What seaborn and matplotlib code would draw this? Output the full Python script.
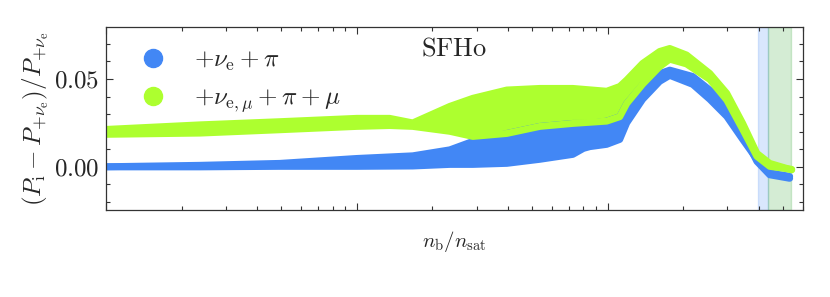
import numpy as np
import pandas as pd
import seaborn as sns
import matplotlib
matplotlib.use('Agg')
import matplotlib.pyplot as plt
from matplotlib.lines import Line2D
from matplotlib.ticker import MultipleLocator, FuncFormatter, NullFormatter, LogLocator

# envelope of the scattered points (x in n_b/n_sat)
x_blue = [0.01, 0.0237, 0.0493, 0.1, 0.167, 0.2347, 0.29, 0.396, 0.536, 0.7255, 0.8, 0.848,
          0.99, 1.116, 1.19, 1.377, 1.61, 1.766, 2.18, 2.55, 2.98, 3.45, 3.93, 4.42, 5.31]
blue_upper = [0.0001, 0.0009, 0.002, 0.0048, 0.0063, 0.0097, 0.0145, 0.019, 0.023, 0.0247, 0.0247, 0.0247,
              0.026, 0.0285, 0.036, 0.0466, 0.053, 0.055, 0.0514, 0.0437, 0.0344, 0.019, 0.0031, -0.0045, -0.0065]
blue_lower = [0.0, 0.0, 0.0003, 0.0003, 0.0005, 0.0014, 0.0014, 0.002, 0.0043, 0.0071, 0.0105, 0.0115,
              0.0128, 0.0156, 0.025, 0.0384, 0.0486, 0.052, 0.0469, 0.0384, 0.0287, 0.0156, 0.0043, -0.0034, -0.0054]

x_green = [0.01, 0.0237, 0.0493, 0.1, 0.135, 0.167, 0.2347, 0.29, 0.396, 0.536, 0.7255, 0.99,
           1.116, 1.19, 1.377, 1.61, 1.766, 2.06, 2.55, 2.98, 3.45, 3.93, 4.42, 5.41]
green_upper = [0.0213, 0.0239, 0.0257, 0.0276, 0.0276, 0.025, 0.0344, 0.039, 0.0437, 0.0446, 0.0446, 0.043,
               0.0457, 0.0494, 0.0588, 0.0656, 0.0673, 0.0636, 0.0531, 0.0418, 0.0247, 0.0077, 0.002, -0.0017]
green_lower = [0.0185, 0.0192, 0.0211, 0.023, 0.0235, 0.023, 0.0202, 0.0173, 0.019, 0.023, 0.0247, 0.026,
               0.0285, 0.036, 0.047, 0.057, 0.0612, 0.0585, 0.0497, 0.038, 0.0213, 0.006, 0.0003, -0.0014]

labels = [r'$+\nu_{\rm e}+\pi$', r'$+\nu_{{\rm e},\mu}+\pi+\mu$']
colors = ['#4287f5', '#adff2f']

# shaded density regions
blue_span = (3.96, 4.34)
green_span = (4.34, 5.36)

sns.set_theme(style="ticks")
plt.rcParams['font.family'] = ['DejaVu Serif']
plt.rcParams['mathtext.fontset'] = 'cm'

fig = plt.figure(figsize=(8.3, 2.97), dpi=100)
ax = fig.add_axes([106 / 830, 1 - 210 / 297, 697 / 830, 183 / 297])
ax.set_xscale('log')

ax.axvspan(*blue_span, facecolor='#4287f5', alpha=0.2, edgecolor='#4287f5', lw=1, zorder=0)
ax.axvspan(*green_span, facecolor='#2ca02c', alpha=0.2, edgecolor='#2ca02c', lw=1, zorder=0)

for xs, lo, up, c in [(x_blue, blue_lower, blue_upper, colors[0]),
                      (x_green, green_lower, green_upper, colors[1])]:
    df = pd.DataFrame({'x': xs, 'lo': lo, 'up': up})
    ax.fill_between(df['x'], df['lo'], df['up'], color=c, lw=0)
    sns.lineplot(data=df, x='x', y='lo', color=c, lw=5, sort=False, estimator=None, ax=ax,
                 solid_capstyle='round')
    sns.lineplot(data=df, x='x', y='up', color=c, lw=5, sort=False, estimator=None, ax=ax,
                 solid_capstyle='round')

ax.set_xlim(0.01, 6)
ax.set_ylim(-0.0245, 0.0795)

ax.yaxis.set_major_locator(MultipleLocator(0.05))
ax.yaxis.set_minor_locator(MultipleLocator(0.01))
ax.yaxis.set_major_formatter(FuncFormatter(lambda v, p: r'$%.2f$' % v))
ax.xaxis.set_major_locator(LogLocator(base=10))
ax.xaxis.set_minor_locator(LogLocator(base=10, subs=np.arange(2, 10)))
ax.xaxis.set_major_formatter(NullFormatter())
ax.xaxis.set_minor_formatter(NullFormatter())

ax.tick_params(which='both', direction='in', top=True, right=True, color='#333333', labelsize=18)
ax.tick_params(which='major', length=5, width=0.8, pad=5)
ax.tick_params(which='minor', length=3, width=0.8)
for s in ax.spines.values():
    s.set_color('#333333')
    s.set_linewidth(0.9)

ax.set_xlabel(r'$n_{\rm b}/n_{\rm sat}$', fontsize=15, labelpad=9)
ax.set_ylabel(r'$(P_{\rm i}-P_{+\nu_{\rm e}})/P_{+\nu_{\rm e}}$', fontsize=18, labelpad=2)
ax.text(0.5, 0.955, r'$\mathrm{SFHo}$', transform=ax.transAxes, ha='center', va='top', fontsize=19)

handles = [Line2D([], [], ls='', marker='o', ms=13, color=c) for c in colors]
ax.legend(handles, labels, loc='upper left', bbox_to_anchor=(0.006, 0.976), frameon=False, fontsize=18,
          handletextpad=0.65, labelspacing=0.55, borderaxespad=0.3)

fig.savefig('out.png', dpi=100)
